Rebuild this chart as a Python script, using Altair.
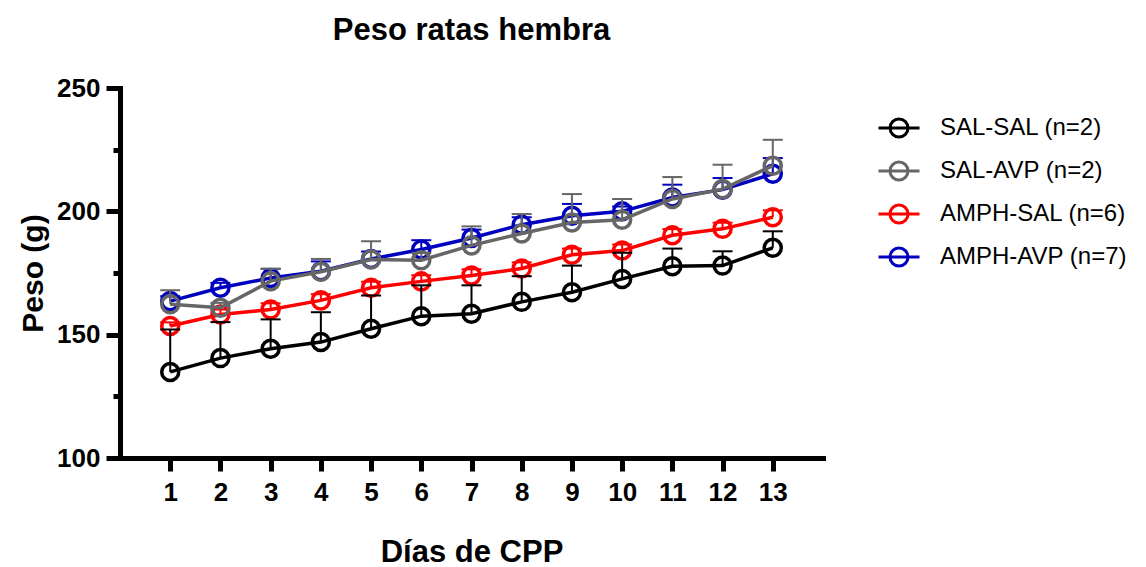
import altair as alt
import pandas as pd

days = list(range(1, 14))
groups = ["SAL-SAL (n=2)", "SAL-AVP (n=2)", "AMPH-SAL (n=6)", "AMPH-AVP (n=7)"]
colors = ["#000000", "#666666", "#FF0000", "#0000C0"]

sal_sal = [134.9, 140.5, 144.3, 147.0, 152.4, 157.5, 158.5, 163.3, 167.2, 172.6, 177.7, 178.0, 185.2]
sal_sal_sem = [17.2, 14.6, 11.9, 12.1, 13.5, 12.5, 11.5, 10.4, 10.8, 10.6, 7.2, 5.8, 6.7]

sal_avp = [162.3, 160.9, 171.7, 175.5, 180.5, 180.2, 186.2, 191.0, 195.5, 196.6, 205.0, 209.0, 218.5]
sal_avp_sem = [5.7, 2.0, 5.0, 5.2, 7.4, 3.0, 7.7, 7.9, 11.5, 8.4, 8.9, 9.9, 10.5]

amph_sal = [153.5, 158.2, 160.2, 163.9, 169.0, 171.6, 174.0, 176.8, 182.4, 184.1, 190.3, 192.9, 197.6]
amph_sal_sem = [1.5, 2.0, 2.5, 2.5, 2.5, 2.5, 2.5, 2.5, 2.5, 2.5, 2.5, 2.5, 2.8]

amph_avp = [163.6, 169.0, 173.0, 175.7, 180.7, 184.5, 189.2, 194.6, 198.2, 200.0, 205.6, 208.8, 215.2]
amph_avp_sem = [2.0, 2.0, 3.7, 4.0, 3.0, 3.8, 3.4, 3.0, 4.8, 2.0, 5.2, 4.7, 6.4]

y_ticks = [100, 125, 150, 175, 200, 225, 250]

series = {
    groups[0]: (sal_sal, sal_sal_sem),
    groups[1]: (sal_avp, sal_avp_sem),
    groups[2]: (amph_sal, amph_sal_sem),
    groups[3]: (amph_avp, amph_avp_sem),
}

rows = []
for g, (m, s) in series.items():
    for d, mv, sv in zip(days, m, s):
        rows.append({"day": d, "group": g, "mean": mv, "upper": mv + sv})
df = pd.DataFrame(rows)

FONT = "Liberation Sans"

# line through an open circle (circle traced both ways so it is not filled)
legend_path = (
    "M-1,0H1"
    "M-0.44,0A0.44,0.44 0 1,1 0.44,0A0.44,0.44 0 1,1 -0.44,0"
    "M-0.44,0A0.44,0.44 0 1,0 0.44,0A0.44,0.44 0 1,0 -0.44,0"
)

color = alt.Color(
    "group:N",
    scale=alt.Scale(domain=groups, range=colors),
    legend=alt.Legend(
        title=None,
        orient="none",
        legendX=757,
        legendY=18,
        symbolType=legend_path,
        symbolSize=1681,
        symbolStrokeWidth=3,
        symbolFillColor="transparent",
        symbolOpacity=1,
        labelFont=FONT,
        labelFontSize=24,
        labelColor="black",
        labelOffset=19,
        rowPadding=5,
        padding=0,
        labelLimit=400,
    ),
)

x_enc = alt.X(
    "day:Q",
    scale=alt.Scale(domain=[0, 14], nice=False, zero=False),
    axis=alt.Axis(
        values=days,
        format="d",
        title="Días de CPP",
        grid=False,
        domainColor="black",
        domainWidth=5,
        domainCap="square",
        tickColor="black",
        tickWidth=5,
        tickSize=13,
        labelFont=FONT,
        labelFontSize=26,
        labelFontWeight="bold",
        labelColor="black",
        labelPadding=8,
        labelFlush=False,
        titleFont=FONT,
        titleFontSize=31,
        titleFontWeight="bold",
        titleColor="black",
        titlePadding=32,
    ),
)

y_enc = alt.Y(
    "mean:Q",
    scale=alt.Scale(domain=[100, 250], nice=False, zero=False),
    axis=alt.Axis(
        values=y_ticks,
        labelExpr="datum.value % 50 == 0 ? datum.label : ''",
        title="Peso (g)",
        grid=False,
        domainColor="black",
        domainWidth=5,
        domainCap="square",
        tickColor="black",
        tickWidth=5,
        tickSize={"condition": {"test": "datum.value % 50 != 0", "value": 7}, "value": 14},
        labelFont=FONT,
        labelFontSize=26,
        labelFontWeight="bold",
        labelColor="black",
        labelPadding=6,
        titleFont=FONT,
        titleFontSize=30,
        titleFontWeight="bold",
        titleColor="black",
        titlePadding=8,
    ),
)

layers = []
for g in reversed(groups):
    d = df[df["group"] == g]
    base = alt.Chart(d)
    err = base.mark_rule(strokeWidth=2).encode(x=x_enc, y=y_enc, y2="upper:Q", color=color)
    cap = base.mark_tick(orient="horizontal", size=20, thickness=2, opacity=1).encode(
        x=x_enc, y=alt.Y("upper:Q"), color=color
    )
    line = base.mark_line(strokeWidth=3.5).encode(x=x_enc, y=y_enc, color=color)
    pts = base.mark_point(shape="circle", filled=False, size=290, strokeWidth=3.5, opacity=1).encode(
        x=x_enc, y=y_enc, color=color
    )
    layers += [err, cap, line, pts]

chart = alt.layer(*layers).properties(
    width=703,
    height=370,
    background="white",
    autosize=alt.AutoSizeParams(type="none"),
    padding={"left": 112, "top": 80, "right": 315, "bottom": 112},
    title=alt.TitleParams(
        "Peso ratas hembra",
        font=FONT,
        fontSize=31,
        fontWeight="bold",
        color="black",
        anchor="middle",
        offset=28,
    ),
).configure_view(stroke=None, strokeWidth=0)

chart.save("out.html", embed_options={"renderer": "svg", "actions": False})
